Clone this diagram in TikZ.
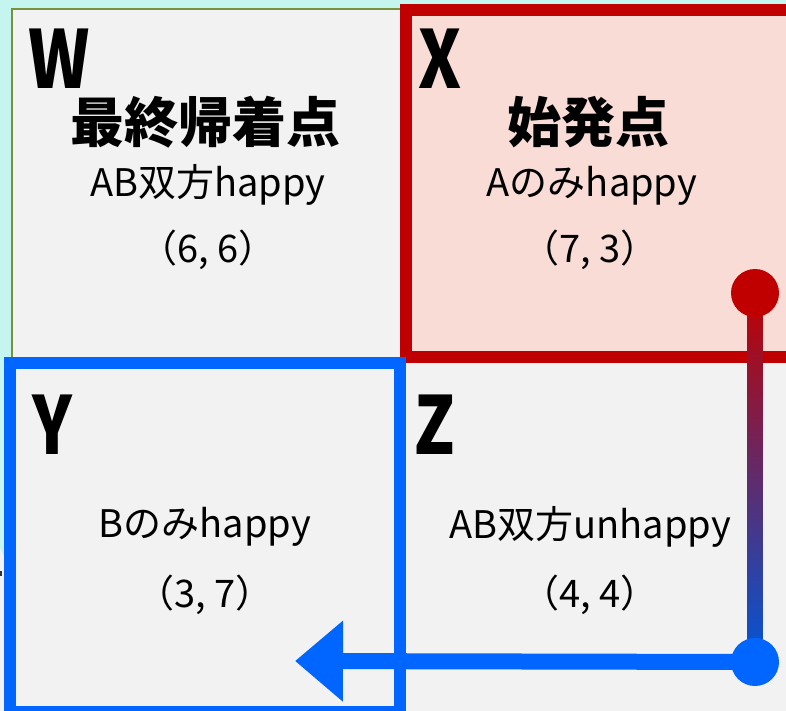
\documentclass[tikz,border=0pt]{standalone}
\usepackage{fontspec}
\setmainfont{Noto Sans CJK JP}
\usetikzlibrary{calc,arrows.meta}
\definecolor{bgcyan}{HTML}{C5F5EF}
\definecolor{cellgrey}{HTML}{F2F2F2}
\definecolor{olivec}{HTML}{76923C}
\definecolor{pinkc}{HTML}{F9DCD5}
\definecolor{redc}{HTML}{C00000}
\definecolor{bluec}{HTML}{0066FF}
\tikzset{
  letter/.style={font=\fontsize{80}{80}\selectfont\bfseries, inner sep=0pt},
  headtxt/.style={font=\fontsize{54}{54}\selectfont\bfseries, inner sep=0pt},
  bodytxt/.style={font=\fontsize{38}{38}\selectfont, inner sep=0pt},
  dot/.style={circle, minimum size=48pt, inner sep=0pt},
}
\begin{document}
\begin{tikzpicture}[x=1pt,y=-1pt]
\useasboundingbox (0,0) rectangle (786,711);
\begin{scope}
\clip (0,0) rectangle (786,711);
\fill[bgcyan] (0,0) rectangle (786,711);
\fill[cellgrey] (0,548) -- (4,556) -- (4,711) -- (0,711) -- cycle;
\fill[black!80] (0,571) rectangle (2,576);
\draw[olivec, line width=2pt, fill=cellgrey] (12,9) rectangle (800,720);
\draw[redc, line width=12pt, fill=pinkc] (406,10) rectangle (800,357);
\draw[bluec, line width=12pt, fill=cellgrey] (10,363) rectangle (400,712);
\end{scope}

% W cell
\node[letter] (w) at (59,59) {\scalebox{0.82}[1]{W}};
\node[headtxt] (wh) at (205,122) {最終帰着点};
\node[bodytxt] (wb) at (208,185) {AB双方happy};
\node[bodytxt] (wv) at (208,250) {（6, 6）};
% X cell
\node[letter] (x) at (440,59) {\scalebox{0.82}[1]{X}};
\node[headtxt] (xh) at (588,122) {始発点};
\node[bodytxt] (xb) at (592,186) {Aのみhappy};
\node[bodytxt] (xv) at (590,250) {（7, 3）};
% Y cell
\node[letter] (y) at (52,425) {\scalebox{0.82}[1]{Y}};
\node[bodytxt] (yb) at (205,527) {Bのみhappy};
\node[bodytxt] (yv) at (205,595) {（3, 7）};
% Z cell
\node[letter] (z) at (435,425) {\scalebox{0.82}[1]{Z}};
\node[bodytxt] (zb) at (590,527) {AB双方unhappy};
\node[bodytxt] (zv) at (590,595) {（4, 4）};

% path
\coordinate (s) at (755,293);
\coordinate (c) at (755,662);
\coordinate (tip) at (295,661);
\shade[top color=redc, bottom color=bluec!85!black] ($(s)+(-7.5,0)$) rectangle ($(c)+(7.5,0)$);
\node[dot, fill=redc] (start) at (s) {};
\node[dot, fill=bluec] (corner) at (c) {};
\draw[bluec, line width=16pt, -{Triangle[length=48pt,width=78pt]}] (corner.center) -- (tip);
\end{tikzpicture}
\end{document}
